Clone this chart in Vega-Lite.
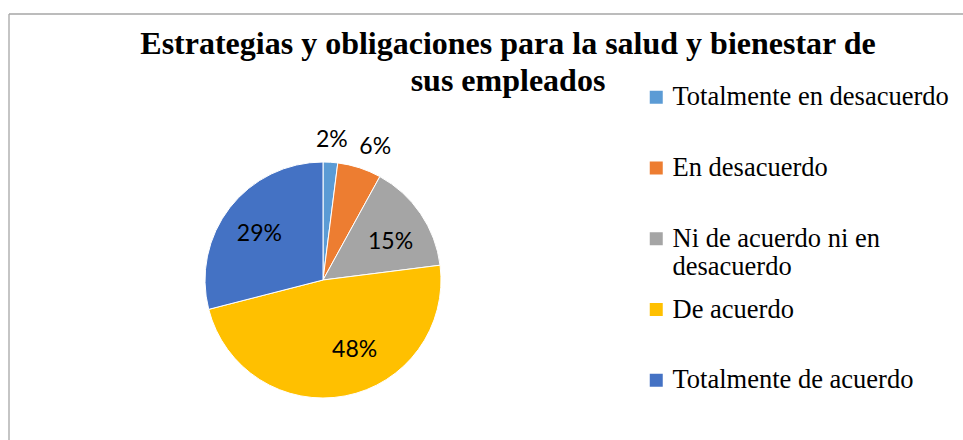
{
  "$schema": "https://vega.github.io/schema/vega-lite/v6.json",
  "width": 628,
  "height": 532,
  "autosize": {"type": "none"},
  "padding": {"left": 9, "top": 14, "right": 326, "bottom": -106},
  "background": "white",
  "config": {
    "view": {"stroke": null},
    "text": {"font": "Lato", "fontSize": 23, "color": "black"}
  },
  "title": {
    "text": ["Estrategias y obligaciones para la salud y bienestar de", "sus empleados"],
    "font": "Liberation Serif",
    "fontSize": 32,
    "fontWeight": "bold",
    "color": "black",
    "anchor": "middle",
    "frame": "group",
    "baseline": "alphabetic",
    "offset": 0,
    "dx": 185,
    "dy": 110,
    "lineHeight": 37
  },
  "data": {
    "values": [
      {"categoria": "Totalmente en desacuerdo", "valor": 0.02, "orden": 1},
      {"categoria": "En desacuerdo", "valor": 0.06, "orden": 2},
      {"categoria": "Ni de acuerdo ni en desacuerdo", "valor": 0.15, "orden": 3},
      {"categoria": "De acuerdo", "valor": 0.48, "orden": 4},
      {"categoria": "Totalmente de acuerdo", "valor": 0.29, "orden": 5}
    ]
  },
  "layer": [
    {
      "data": {"values": [{"borde": "marco"}]},
      "mark": {"type": "rule", "color": "#a6a6a6", "strokeWidth": 1.3},
      "encoding": {
        "x": {"datum": 0, "type": "quantitative", "scale": {"domain": [0, 1]}, "axis": null}
      }
    },
    {
      "data": {"values": [{"borde": "marco"}]},
      "mark": {"type": "rule", "color": "#a6a6a6", "strokeWidth": 1.3},
      "encoding": {
        "y": {"datum": 1, "type": "quantitative", "scale": {"domain": [0, 1]}, "axis": null},
        "x": {"datum": 0, "type": "quantitative"},
        "x2": {"datum": 1.6}
      }
    },
    {
      "mark": {"type": "arc", "outerRadius": 118, "stroke": "white", "strokeWidth": 1},
      "encoding": {
        "theta": {"field": "valor", "type": "quantitative", "stack": true},
        "order": {"field": "orden", "type": "quantitative"},
        "color": {
          "field": "categoria",
          "type": "nominal",
          "scale": {
            "domain": ["Totalmente en desacuerdo", "En desacuerdo", "Ni de acuerdo ni en desacuerdo", "De acuerdo", "Totalmente de acuerdo"],
            "range": ["#5B9BD5", "#ED7D31", "#A5A5A5", "#FFC000", "#4472C4"]
          },
          "legend": {
            "orient": "none",
            "legendX": 634,
            "legendY": 70,
            "title": null,
            "padding": 0,
            "symbolType": "square",
            "symbolSize": 169,
            "symbolStrokeWidth": 0,
            "labelFont": "Liberation Serif",
            "labelFontSize": 26.5,
            "labelColor": "black",
            "labelOffset": 3,
            "labelLimit": 400,
            "gridAlign": "all",
            "rowPadding": 14.75,
            "labelExpr": "datum.label == 'Ni de acuerdo ni en desacuerdo' ? ['Ni de acuerdo ni en', 'desacuerdo'] : datum.label"
          }
        }
      }
    },
    {
      "mark": {"type": "text", "radius": 140},
      "encoding": {
        "theta": {"field": "valor", "type": "quantitative", "stack": true},
        "order": {"field": "orden", "type": "quantitative"},
        "detail": {"field": "categoria"},
        "text": {"condition": {"test": "datum.orden == 1", "field": "valor", "type": "quantitative", "format": ".0%"}, "value": ""}
      }
    },
    {
      "mark": {"type": "text", "radius": 140, "dx": 9},
      "encoding": {
        "theta": {"field": "valor", "type": "quantitative", "stack": true},
        "order": {"field": "orden", "type": "quantitative"},
        "detail": {"field": "categoria"},
        "text": {"condition": {"test": "datum.orden == 2", "field": "valor", "type": "quantitative", "format": ".0%"}, "value": ""}
      }
    },
    {
      "mark": {"type": "text", "radius": 78, "dx": 3, "dy": 6},
      "encoding": {
        "theta": {"field": "valor", "type": "quantitative", "stack": true},
        "order": {"field": "orden", "type": "quantitative"},
        "detail": {"field": "categoria"},
        "text": {"condition": {"test": "datum.orden == 3", "field": "valor", "type": "quantitative", "format": ".0%"}, "value": ""}
      }
    },
    {
      "mark": {"type": "text", "radius": 78, "dx": 17, "dy": -7},
      "encoding": {
        "theta": {"field": "valor", "type": "quantitative", "stack": true},
        "order": {"field": "orden", "type": "quantitative"},
        "detail": {"field": "categoria"},
        "text": {"condition": {"test": "datum.orden == 4", "field": "valor", "type": "quantitative", "format": ".0%"}, "value": ""}
      }
    },
    {
      "mark": {"type": "text", "radius": 78, "dx": -2, "dy": 2},
      "encoding": {
        "theta": {"field": "valor", "type": "quantitative", "stack": true},
        "order": {"field": "orden", "type": "quantitative"},
        "detail": {"field": "categoria"},
        "text": {"condition": {"test": "datum.orden == 5", "field": "valor", "type": "quantitative", "format": ".0%"}, "value": ""}
      }
    }
  ]
}
